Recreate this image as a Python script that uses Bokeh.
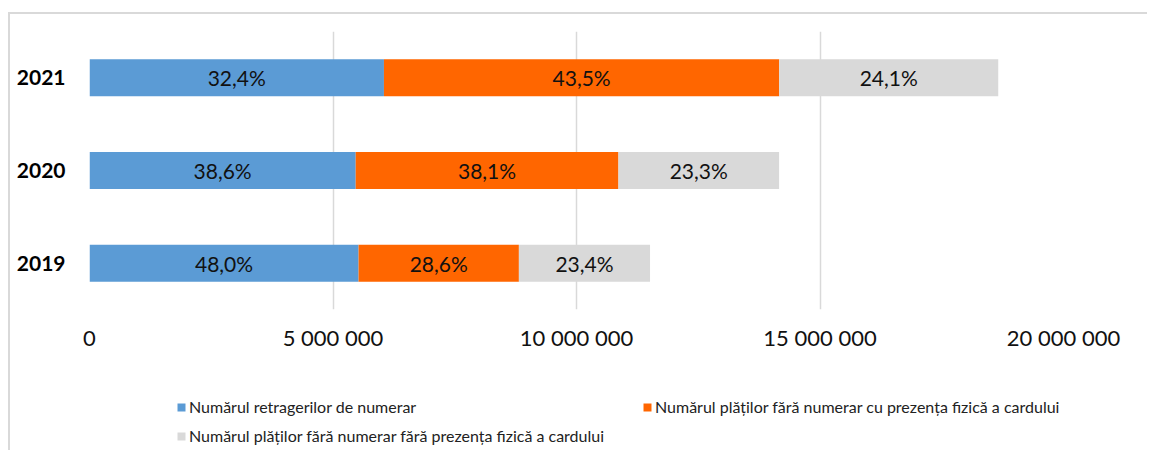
from bokeh.plotting import figure
from bokeh.layouts import column
from bokeh.models import ColumnDataSource, Legend, LegendItem, FixedTicker, Range1d
from bokeh.core.properties import value
from bokeh.embed import file_html
from bokeh.resources import INLINE

years = ["2019", "2020", "2021"]
retrageri = [5525000, 5466000, 6046000]
plati_cu_card = [3292000, 5395000, 8117000]
plati_fara_card = [2693000, 3299000, 4497000]
pct_retrageri = ["48,0%", "38,6%", "32,4%"]
pct_cu_card = ["28,6%", "38,1%", "43,5%"]
pct_fara_card = ["23,4%", "23,3%", "24,1%"]
series_names = [
    "Numărul retragerilor de numerar",
    "Numărul plăților fără numerar cu prezența fizică a cardului",
    "Numărul plăților fără numerar fără prezența fizică a cardului",
]
x_ticks = [0, 5000000, 10000000, 15000000, 20000000]
x_tick_labels = ["0", "5 000 000", "10 000 000", "15 000 000", "20 000 000"]

colors = ["#5B9BD5", "#FF6600", "#D9D9D9"]
FONT = "Lato"

source = ColumnDataSource(dict(year=years, s1=retrageri, s2=plati_cu_card, s3=plati_fara_card))

p = figure(
    width=1137, height=356,
    y_range=years,
    x_range=Range1d(0, 20000000),
    output_backend="svg", toolbar_location=None,
    min_border_left=79, min_border_right=84, min_border_top=17, min_border_bottom=61,
)
p.outline_line_color = None
p.background_fill_color = "white"
p.border_fill_color = "white"

renderers = p.hbar_stack(["s1", "s2", "s3"], y="year", height=0.4, color=colors,
                         line_color=None, source=source)

# labels at segment centers
lab_x, lab_y, lab_t = [], [], []
for i, y in enumerate(years):
    a, b, c = retrageri[i], plati_cu_card[i], plati_fara_card[i]
    lab_x += [a / 2, a + b / 2, a + b + c / 2]
    lab_y += [y, y, y]
    lab_t += [pct_retrageri[i], pct_cu_card[i], pct_fara_card[i]]
p.text(x=lab_x, y=lab_y, text=lab_t, text_align="center", text_baseline="middle",
       text_font=value(FONT), text_font_size="21px", text_color="#111111")

# grid
p.ygrid.grid_line_color = None
p.xgrid.grid_line_color = "#d9d9d9"
p.xgrid.grid_line_width = 1.5
p.xgrid.ticker = FixedTicker(ticks=x_ticks)

# x axis
p.xaxis.ticker = FixedTicker(ticks=x_ticks)
p.xaxis.major_label_overrides = {t: l for t, l in zip(x_ticks, x_tick_labels)}
p.xaxis.axis_line_color = None
p.xaxis.major_tick_line_color = None
p.xaxis.minor_tick_line_color = None
p.xaxis.major_label_standoff = 8
p.xaxis.major_label_text_font = FONT
p.xaxis.major_label_text_font_size = "22px"
p.xaxis.major_label_text_color = "#111111"

# y axis
p.yaxis.axis_line_color = None
p.yaxis.major_tick_line_color = None
p.yaxis.minor_tick_line_color = None
p.yaxis.major_label_standoff = 18
p.yaxis.major_label_text_font = FONT
p.yaxis.major_label_text_font_style = "bold"
p.yaxis.major_label_text_font_size = "21px"
p.yaxis.major_label_text_color = "#000000"

# legend figure (same data with zero-height bars; only the legend shows)
pl = figure(width=1137, height=80, output_backend="svg", toolbar_location=None,
            x_axis_location=None, y_axis_location=None,
            min_border=0, x_range=Range1d(-2, -1), y_range=years)
pl.outline_line_color = None
pl.xgrid.grid_line_color = None
pl.ygrid.grid_line_color = None
leg_renderers = pl.hbar_stack(["s1", "s2", "s3"], y="year", height=0, color=colors,
                              line_color=None, source=source)

def make_legend(idx, loc, orientation="vertical"):
    lg = Legend(
        items=[LegendItem(label=series_names[i], renderers=[leg_renderers[i]]) for i in idx],
        location=loc, orientation=orientation,
        glyph_width=10, glyph_height=10, label_standoff=3,
        label_text_font=FONT, label_text_font_size="16px", label_text_color="#222222",
        padding=0, margin=0, spacing=10, border_line_color=None,
        background_fill_alpha=0, label_height=19,
    )
    pl.add_layout(lg, "center")

make_legend([0, 2], (87, 5))
make_legend([1], (553, 34))

layout = column(p, pl, spacing=0,
                styles={"margin-top": "12px", "margin-left": "8px",
                        "border-top": "2px solid #d9d9d9", "border-left": "2px solid #d9d9d9"})

open("out.html", "w").write(file_html(layout, INLINE))
